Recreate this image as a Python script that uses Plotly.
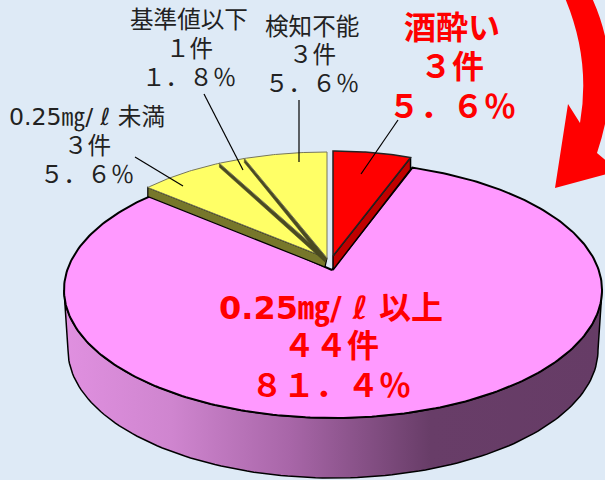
import numpy as np
import plotly.graph_objects as go

# ---- data (clockwise from 12 o'clock) ----
categories = ["酒酔い", "0.25㎎/ ℓ 以上", "0.25㎎/ ℓ 未満", "基準値以下", "検知不能"]
counts = [3, 44, 3, 1, 3]
count_labels = ["３件", "４４件", "３件", "１件", "３件"]
percents = [5.6, 81.4, 5.6, 1.8, 5.6]
percent_labels = ["５．６％", "８１．４％", "５．６％", "１．８％", "５．６％"]

BG = "#deeaf6"
total = sum(percents)
edges = np.cumsum([0] + percents) / total * 360.0


def arc(cx, cy, a, b, t0, t1, n=120):
    t = np.radians(np.linspace(t0, t1, n))
    return cx + a * np.sin(t), cy - b * np.cos(t)


def poly(fig, x, y, fill, line="black", width=1.5):
    fig.add_trace(go.Scatter(x=list(x) + [x[0]], y=list(y) + [y[0]], mode="lines", fill="toself",
                             fillcolor=fill, line=dict(color=line, width=width),
                             hoverinfo="skip", showlegend=False))


fig = go.Figure()

# pink body
PCX, PCY, PA, PB = 333, 290, 269, 128
PIVX, PIVY = 332, 270
tx, ty = arc(PCX, PCY, PA, PB, 90, 270)
bx, by = arc(PCX, 350, 265, 128, 270, 90)
fig.add_trace(go.Scatter(
    x=list(tx) + list(bx) + [tx[0]], y=list(ty) + list(by) + [ty[0]], mode="lines", fill="toself",
    fillgradient=dict(type="horizontal", colorscale=[
        [0, "#e090e0"], [0.2, "#cf85cf"], [0.42, "#a866a8"], [0.68, "#683d68"], [1, "#663c66"]]),
    line=dict(color="black", width=1.5), hoverinfo="skip", showlegend=False))

# pink top
ax, ay = arc(PCX, PCY, PA, PB, edges[1] - 3, edges[2] + 6, 300)
poly(fig, [PIVX] + list(ax), [PIVY] + list(ay), "#ff99ff", width=2)

# yellow slices (left to right)
YCX, YCY, YA, YB = 327, 258, 240, 106
depths = [9, 4, 4]
pads = [1.5, 0, 0]
for i, d, p in zip([2, 3, 4], depths, pads):
    t0, t1 = edges[i] - p, edges[i + 1]
    rx, ry = arc(YCX, YCY, YA, YB, t0, t0, 1)
    dark = "#77772b" if d > 5 else "#4a4a22"
    poly(fig, [YCX, rx[0], rx[0], YCX - 2], [YCY, ry[0], ry[0] + d, YCY + d],
         dark, line="black" if d > 5 else dark, width=1.2 if d > 5 else 0.5)
    ax, ay = arc(YCX, YCY, YA, YB, t0, t1, 40)
    poly(fig, [YCX] + list(ax), [YCY] + list(ay), "#ffff66", line="#77775a", width=1)

# red slice
RCX, RCY, RA, RB = 333, 256, 225, 105
RD = 12
rx, ry = arc(RCX, RCY, RA, RB, edges[1], edges[1], 1)
poly(fig, [RCX, rx[0], rx[0], RCX], [RCY, ry[0], ry[0] + RD, RCY + RD + 2], "#c00000", width=1.5)
ax, ay = arc(RCX, RCY, RA, RB, edges[0], edges[1], 40)
poly(fig, [RCX] + list(ax), [RCY] + list(ay), "#ff0000", line="#222222", width=1.5)

shapes = [
    dict(type="path", xref="x", yref="y", fillcolor="#ff0000", line=dict(width=0),
         path="M 565 -2 Q 591 60 580 123 L 568 104 L 555 188 L 618 171 L 597 153 Q 625 70 592 -2 Z"),
]
leaders = [((135, 157), (183, 186)), ((204, 94), (243, 170)), ((299, 100), (299, 162)), ((398, 120), (361, 174))]
for (x0, y0), (x1, y1) in leaders:
    shapes.append(dict(type="line", xref="x", yref="y", x0=x0, y0=y0, x1=x1, y1=y1,
                       line=dict(color="black", width=1.2)))

FONT = "DejaVu Sans, Noto Sans CJK JP"


def label(i, x, ys, size, color, bold=False):
    lines = [categories[i], count_labels[i], percent_labels[i]]
    out = []
    for s, y in zip(lines, ys):
        out.append(dict(x=x, y=y, xref="x", yref="y", text=f"<b>{s}</b>" if bold else s, showarrow=False,
                        xanchor="center", yanchor="middle", align="center",
                        font=dict(family=FONT, size=size, color=color)))
    return out


annotations = (
    label(0, 452, [28, 67, 107], 32, "#ff0000", True)
    + label(1, 331, [308, 346, 386], 32, "#ff0000", True)
    + label(2, 87, [117, 146, 175], 23.6, "#222222")
    + label(3, 189, [20, 49, 78], 23.6, "#222222")
    + label(4, 312, [27, 55, 84], 23.6, "#222222")
)

fig.update_layout(
    width=605, height=480, margin=dict(l=0, r=0, t=0, b=0), autosize=False,
    paper_bgcolor=BG, plot_bgcolor=BG, showlegend=False, shapes=shapes, annotations=annotations,
    xaxis=dict(range=[0, 605], visible=False, fixedrange=True),
    yaxis=dict(range=[480, 0], visible=False, fixedrange=True),
)
fig.write_html("out.html", config={"displayModeBar": False},
               post_script="document.body.style.margin='0';document.body.style.background='%s';" % BG)
